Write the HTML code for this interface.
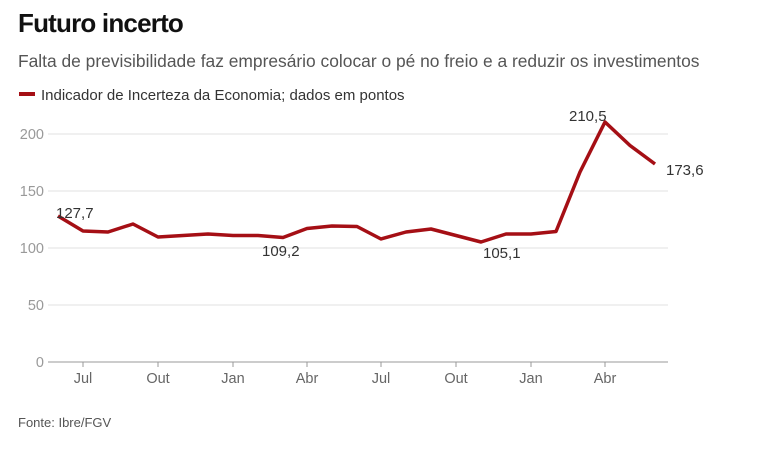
<!DOCTYPE html>
<html><head><meta charset="utf-8"><style>
body{margin:0;width:765px;height:450px;background:#fff;font-family:"Liberation Sans",sans-serif;overflow:hidden}
</style></head><body>
<svg width="765" height="450" xmlns="http://www.w3.org/2000/svg" font-family="Liberation Sans, sans-serif">
<text x="18" y="32" font-size="26" font-weight="bold" fill="#111" letter-spacing="-0.8">Futuro incerto</text>
<text x="18" y="67" font-size="17.4" fill="#555">Falta de previsibilidade faz empresário colocar o pé no freio e a reduzir os investimentos</text>
<line x1="19" y1="94" x2="35" y2="94" stroke="#a50f15" stroke-width="4"/>
<text x="41" y="100" font-size="15" fill="#333">Indicador de Incerteza da Economia; dados em pontos</text>
<g stroke="#e2e2e2" stroke-width="1">
<line x1="48" y1="134" x2="668" y2="134"/><line x1="48" y1="191" x2="668" y2="191"/>
<line x1="48" y1="248" x2="668" y2="248"/><line x1="48" y1="305" x2="668" y2="305"/>
</g>
<line x1="48" y1="362" x2="668" y2="362" stroke="#999"/>
<g font-size="14.5" fill="#999" text-anchor="end">
<text x="44" y="139">200</text><text x="44" y="196">150</text><text x="44" y="253">100</text><text x="44" y="310">50</text><text x="44" y="367">0</text>
</g>
<g stroke="#999"><line x1="83" y1="362" x2="83" y2="367"/><line x1="158" y1="362" x2="158" y2="367"/><line x1="233" y1="362" x2="233" y2="367"/><line x1="307" y1="362" x2="307" y2="367"/><line x1="381" y1="362" x2="381" y2="367"/><line x1="456" y1="362" x2="456" y2="367"/><line x1="531" y1="362" x2="531" y2="367"/><line x1="605" y1="362" x2="605" y2="367"/></g>
<g font-size="14.5" fill="#666" text-anchor="middle">
<text x="83" y="383">Jul</text><text x="158" y="383">Out</text><text x="233" y="383">Jan</text><text x="307" y="383">Abr</text><text x="381" y="383">Jul</text><text x="456" y="383">Out</text><text x="531" y="383">Jan</text><text x="605" y="383">Abr</text>
</g>
<polyline fill="none" stroke="#a50f15" stroke-width="3.5" stroke-linejoin="round" points="58,216 83,231 108,232 133,224 158,237 183,235.5 208,234 233,235.5 258,235.5 283,237.5 307,228.5 332,226 357,226.5 381,239 406,232 431,229 456,235.5 481,242 506,234 531,234 556,231.5 580,172 605,122 630,145.5 655,164"/>
<g font-size="15" fill="#333">
<text x="56" y="218">127,7</text>
<text x="262" y="256">109,2</text>
<text x="483" y="258">105,1</text>
<text x="569" y="121">210,5</text>
<text x="666" y="175">173,6</text>
</g>
<text x="18" y="427" font-size="13" fill="#555">Fonte: Ibre/FGV</text>
</svg>
</body></html>
